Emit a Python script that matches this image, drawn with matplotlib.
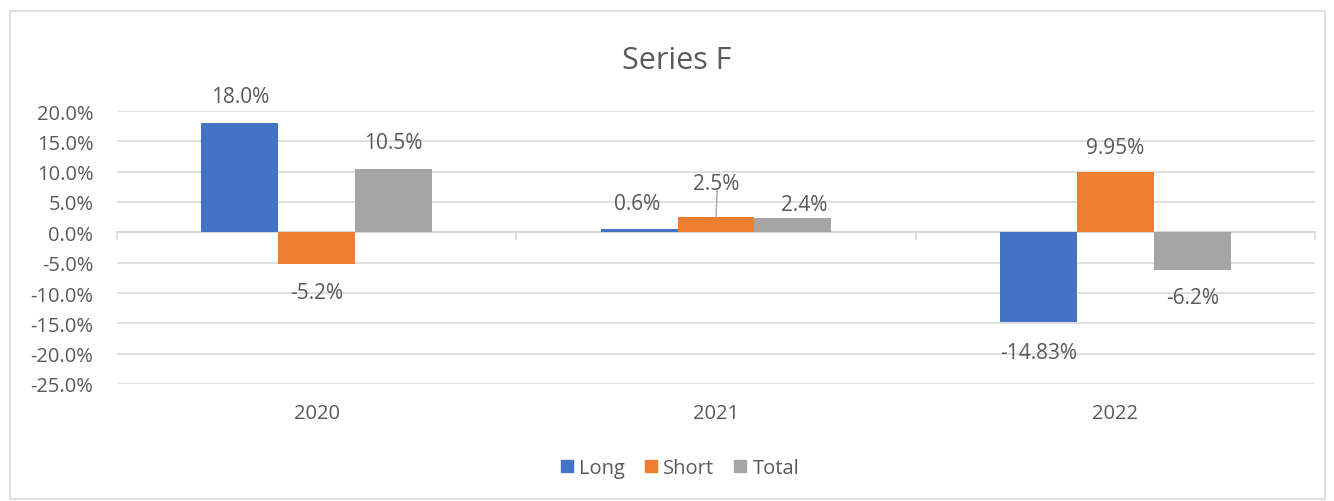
import matplotlib
matplotlib.use("Agg")
import matplotlib.pyplot as plt
import matplotlib.patches as mpatches
import numpy as np

categories = ["2020", "2021", "2022"]
series_names = ["Long", "Short", "Total"]
long_vals = [18.0, 0.6, -14.83]
short_vals = [-5.2, 2.5, 9.95]
total_vals = [10.5, 2.4, -6.2]
long_labels = ["18.0%", "0.6%", "-14.83%"]
short_labels = ["-5.2%", "2.5%", "9.95%"]
total_labels = ["10.5%", "2.4%", "-6.2%"]
yticks = [20, 15, 10, 5, 0, -5, -10, -15, -20, -25]

colors = ["#4472C4", "#ED7D31", "#A5A5A5"]
text_color = "#595959"
grid_color = "#D9D9D9"

plt.rcParams['font.family'] = ['Open Sans', 'DejaVu Sans']

W, H = 1334, 502
fig = plt.figure(figsize=(W / 100, H / 100), dpi=100)
ax = fig.add_axes([117 / W, 1 - 385 / H, (1315 - 117) / W, (385 - 112) / H])

# chart border
fig.patches.append(mpatches.Rectangle((10 / W, 2 / H), 1315 / W, 488 / H,
                                      transform=fig.transFigure, fill=False,
                                      edgecolor=grid_color, linewidth=1.2))

x = np.arange(len(categories))
bw = 0.1925
all_vals = [long_vals, short_vals, total_vals]
all_labels = [long_labels, short_labels, total_labels]

for i, vals in enumerate(all_vals):
    xs = x + (i - 1) * bw
    ax.bar(xs, vals, width=bw, color=colors[i], label=series_names[i], zorder=3)

# label offsets (pixels) relative to bar end: [series][category]
offsets = {
    (0, 0): (0, 27), (1, 0): (0, -29), (2, 0): (0, 26),
    (0, 1): (-2, 25), (1, 1): (0, 34), (2, 1): (11, 13),
    (0, 2): (0, -30), (1, 2): (0, 24), (2, 2): (0, -28),
}
for i, (vals, labs) in enumerate(zip(all_vals, all_labels)):
    for j, (v, lab) in enumerate(zip(vals, labs)):
        dx, dy = offsets[(i, j)]
        ax.annotate(lab, xy=(x[j] + (i - 1) * bw, v), xytext=(dx, dy),
                    textcoords="offset pixels", ha="center", va="center",
                    fontsize=15, color=text_color, zorder=5)

# leader line for 2021 Short label
ax.plot([x[1], x[1] + 0.003], [short_vals[1], short_vals[1] + 4.4],
        color="#A6A6A6", linewidth=1, zorder=4)

ax.set_xlim(-0.5, 2.5)
ax.set_ylim(-25, 20)
ax.set_yticks(yticks)
ax.set_yticklabels([f"{t:.1f}%" for t in yticks])
ax.grid(axis="y", color=grid_color, linewidth=1.2, zorder=0)
ax.set_axisbelow(True)
for s in ax.spines.values():
    s.set_visible(False)
ax.tick_params(axis="y", length=0, pad=17, labelsize=14.5, labelcolor=text_color)
ax.set_xticks(x)
ax.set_xticklabels(categories)
ax.tick_params(axis="x", length=0, pad=14, labelsize=14.5, labelcolor=text_color)

# zero axis line with category boundary ticks
ax.axhline(0, color=grid_color, linewidth=1.2, zorder=2)
for b in [-0.5, 0.5, 1.5, 2.5]:
    ax.plot([b, b], [0, -1.1], color=grid_color, linewidth=1.2, zorder=2,
            clip_on=False)

# title
fig.text(677 / W, 1 - 61 / H, "Series F", ha="center", va="center",
         fontsize=22, color=text_color)

# legend
handles = [mpatches.Patch(color=c) for c in colors]
fig.legend(handles, series_names, loc="center", bbox_to_anchor=(680 / W, 1 - 469 / H),
           ncol=3, frameon=False, fontsize=14.5, labelcolor=text_color,
           handlelength=0.6, handleheight=0.6, handletextpad=0.3, columnspacing=1.0)

fig.savefig("out.png", dpi=100)
